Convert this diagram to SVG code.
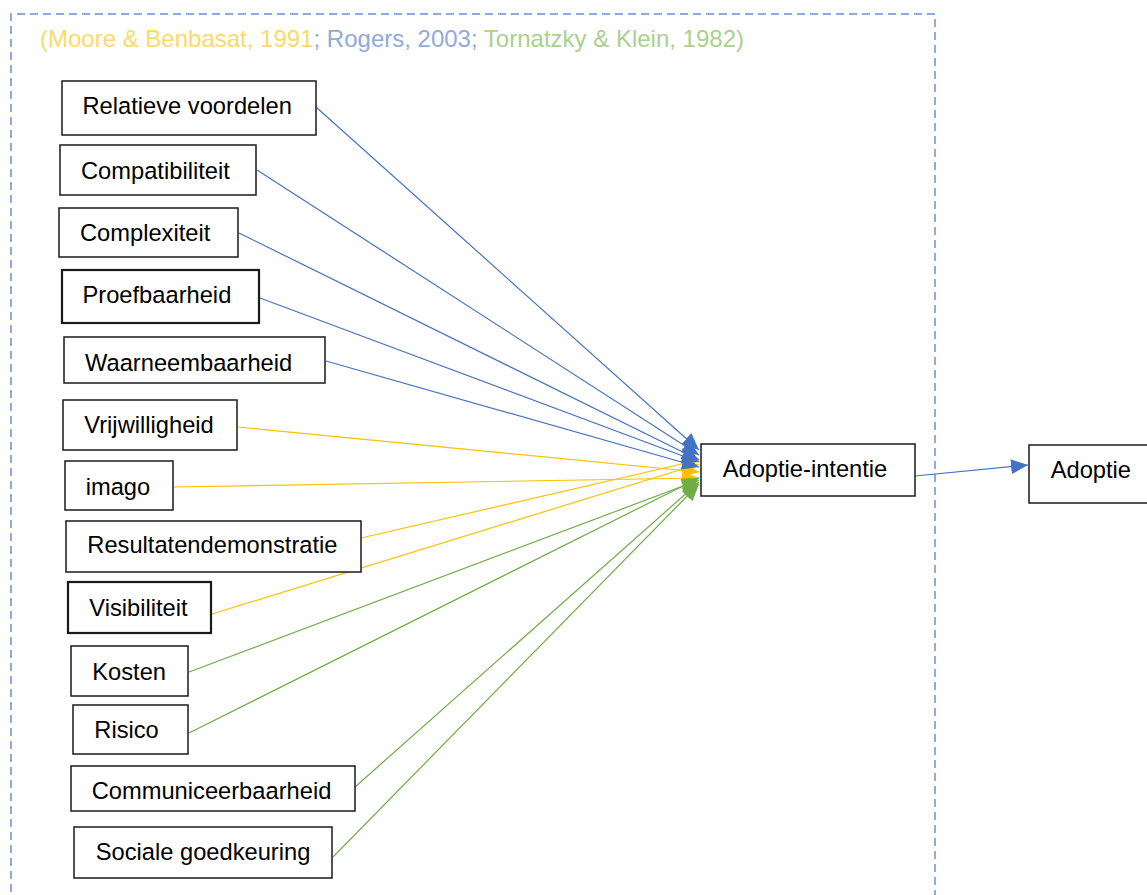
<svg xmlns="http://www.w3.org/2000/svg" width="1147" height="895" viewBox="0 0 1147 895">
<style>
.box{fill:#fff;stroke:#1a1a1a;stroke-width:1.5}
.thick{stroke-width:2.2}
.lbl{font-family:"Liberation Sans",Arial,sans-serif;font-size:23.7px;fill:#000}
.hdr{font-family:"Liberation Sans",Arial,sans-serif;font-size:24px}
.b{stroke:#4472C4;stroke-width:1.2;fill:none;marker-end:url(#ab)}
.y{stroke:#FFC000;stroke-width:1.2;fill:none;marker-end:url(#ay)}
.g{stroke:#70AD47;stroke-width:1.2;fill:none;marker-end:url(#ag)}
</style>
<defs>
<marker id="ab" markerUnits="userSpaceOnUse" markerWidth="17" markerHeight="15" refX="17" refY="7.5" orient="auto"><path d="M0,0 L17,7.5 L0,15 Z" fill="#4472C4"/></marker>
<marker id="ay" markerUnits="userSpaceOnUse" markerWidth="17" markerHeight="15" refX="17" refY="7.5" orient="auto"><path d="M0,0 L17,7.5 L0,15 Z" fill="#FFC000"/></marker>
<marker id="ag" markerUnits="userSpaceOnUse" markerWidth="17" markerHeight="15" refX="17" refY="7.5" orient="auto"><path d="M0,0 L17,7.5 L0,15 Z" fill="#70AD47"/></marker>
</defs>
<rect width="1147" height="895" fill="#fff"/>
<path d="M11,905 L11,14 L935,14 L935,905" fill="none" stroke="#8FAADC" stroke-width="2" stroke-dasharray="8,5"/>
<text class="hdr" x="40" y="47"><tspan fill="#FFD966">(Moore &amp; Benbasat, 1991</tspan><tspan fill="#8FAADC">; Rogers, 2003; </tspan><tspan fill="#A9D18E">Tornatzky &amp; Klein, 1982)</tspan></text>
<g id="connectors">
<line class="y" x1="238" y1="427" x2="699" y2="472"/>
<line class="y" x1="174" y1="487" x2="699" y2="478"/>
<line class="y" x1="361" y1="538" x2="699" y2="460"/>
<line class="y" x1="212" y1="614" x2="699" y2="464"/>
<line class="b" x1="316" y1="107" x2="699" y2="450"/>
<line class="b" x1="257" y1="170" x2="699" y2="455"/>
<line class="b" x1="239" y1="233" x2="699" y2="460"/>
<line class="b" x1="260" y1="298" x2="699" y2="462"/>
<line class="b" x1="326" y1="361" x2="699" y2="467"/>
<line class="g" x1="189" y1="672" x2="699" y2="480"/>
<line class="g" x1="189" y1="733" x2="699" y2="478"/>
<line class="g" x1="355" y1="787" x2="699" y2="482"/>
<line class="g" x1="333" y1="857" x2="699" y2="484"/>
<line class="b" x1="915" y1="476" x2="1028" y2="465"/>
</g>
<g id="n1"><rect class="box" x="62" y="81" width="254" height="54"/><text class="lbl" x="82.5" y="114">Relatieve voordelen</text></g>
<g id="n2"><rect class="box" x="60" y="145" width="196" height="50"/><text class="lbl" x="81" y="179">Compatibiliteit</text></g>
<g id="n3"><rect class="box" x="59" y="208" width="179" height="49"/><text class="lbl" x="80" y="241">Complexiteit</text></g>
<g id="n4"><rect class="box thick" x="62" y="270" width="197" height="53"/><text class="lbl" x="82.5" y="303">Proefbaarheid</text></g>
<g id="n5"><rect class="box" x="64" y="337" width="261" height="46"/><text class="lbl" x="85" y="371">Waarneembaarheid</text></g>
<g id="n6"><rect class="box" x="63" y="400" width="174" height="50"/><text class="lbl" x="84.3" y="433">Vrijwilligheid</text></g>
<g id="n7"><rect class="box" x="65" y="461" width="108" height="49"/><text class="lbl" x="85.7" y="495">imago</text></g>
<g id="n8"><rect class="box" x="66" y="521" width="295" height="51"/><text class="lbl" x="87.3" y="553">Resultatendemonstratie</text></g>
<g id="n9"><rect class="box thick" x="68" y="582" width="143" height="51"/><text class="lbl" x="89.3" y="616">Visibiliteit</text></g>
<g id="n10"><rect class="box" x="71" y="646" width="117" height="50"/><text class="lbl" x="92.3" y="680">Kosten</text></g>
<g id="n11"><rect class="box" x="73" y="705" width="115" height="49"/><text class="lbl" x="94.3" y="737.5">Risico</text></g>
<g id="n12"><rect class="box" x="71" y="766" width="284" height="45"/><text class="lbl" x="91.7" y="798.5">Communiceerbaarheid</text></g>
<g id="n13"><rect class="box" x="74" y="827" width="258" height="51"/><text class="lbl" x="95.7" y="859.5">Sociale goedkeuring</text></g>
<g id="n14"><rect class="box" x="701" y="444" width="214" height="52"/><text class="lbl" x="722.7" y="477.3">Adoptie-intentie</text></g>
<g id="n15"><rect class="box" x="1029" y="445" width="120" height="58"/><text class="lbl" x="1050.7" y="478.3">Adoptie</text></g>
</svg>
